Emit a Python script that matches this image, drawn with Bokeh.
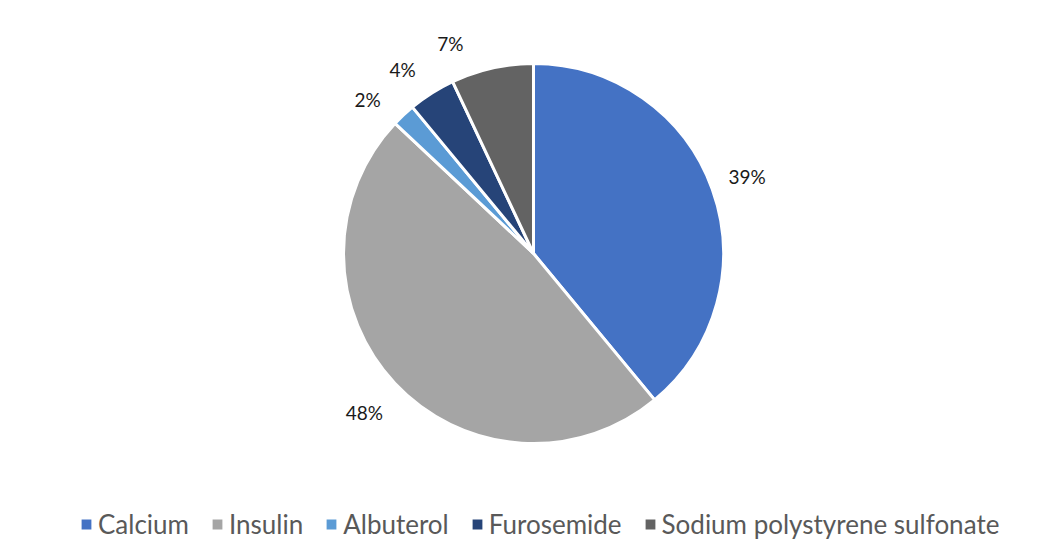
import math
from bokeh.plotting import figure
from bokeh.models import Range1d, Legend, LegendItem, ColumnDataSource
from bokeh.core.properties import value
from bokeh.embed import file_html
from bokeh.resources import INLINE

categories = ["Calcium", "Insulin", "Albuterol", "Furosemide", "Sodium polystyrene sulfonate"]
percents = [39, 48, 2, 4, 7]
colors = ["#4472C4", "#A5A5A5", "#5B9BD5", "#264478", "#636363"]

# layout
W, H = 1056, 540
CX, CY, R = 533, H - 253, 190
LABEL_R = [227, 232, 226, 226, 226]
LABEL_NUDGE_DEG = [0, 0, -4, -3, -9]   # angle nudges (clockwise degrees) for label placement
FONT = "Lato"

total = sum(percents)
starts, ends = [], []
cum = 0.0
for v in percents:
    starts.append(math.pi / 2 - 2 * math.pi * cum / total)
    cum += v
    ends.append(math.pi / 2 - 2 * math.pi * cum / total)

p = figure(width=W, height=H, output_backend="svg", toolbar_location=None,
           x_range=Range1d(0, W), y_range=Range1d(0, H), min_border=0)
p.axis.visible = False
p.grid.visible = False
p.outline_line_color = None
p.background_fill_color = "white"
p.border_fill_color = "white"

src = ColumnDataSource(dict(start=starts, end=ends, color=colors, cat=categories))
wr = p.wedge(x=CX, y=CY, radius=R, start_angle="start", end_angle="end", direction="clock",
             fill_color="color", line_color="white", line_width=3, source=src)

# data labels
lx, ly, lt = [], [], []
cum = 0.0
for i, v in enumerate(percents):
    mid = (cum + v / 2) / total * 360 + LABEL_NUDGE_DEG[i]
    cum += v
    a = math.radians(mid)
    lx.append(CX + LABEL_R[i] * math.sin(a))
    ly.append(CY + LABEL_R[i] * math.cos(a))
    lt.append(f"{v}%")
p.text(x=lx, y=ly, text=lt, text_align="center", text_baseline="middle",
       text_font=value(FONT), text_font_size="19px", text_color="#1a1a1a")

# legend
items = [LegendItem(label=name, renderers=[wr], index=i) for i, name in enumerate(categories)]
legend = Legend(items=items, orientation="horizontal", location=(78, 0),
                label_text_font=FONT, label_text_font_size="26px", label_text_color="#595959",
                glyph_width=16, glyph_height=16, label_standoff=4, spacing=20,
                padding=0, margin=0, border_line_color=None, background_fill_alpha=0)
p.add_layout(legend, "center")

open("out.html", "w").write(file_html(p, INLINE))
